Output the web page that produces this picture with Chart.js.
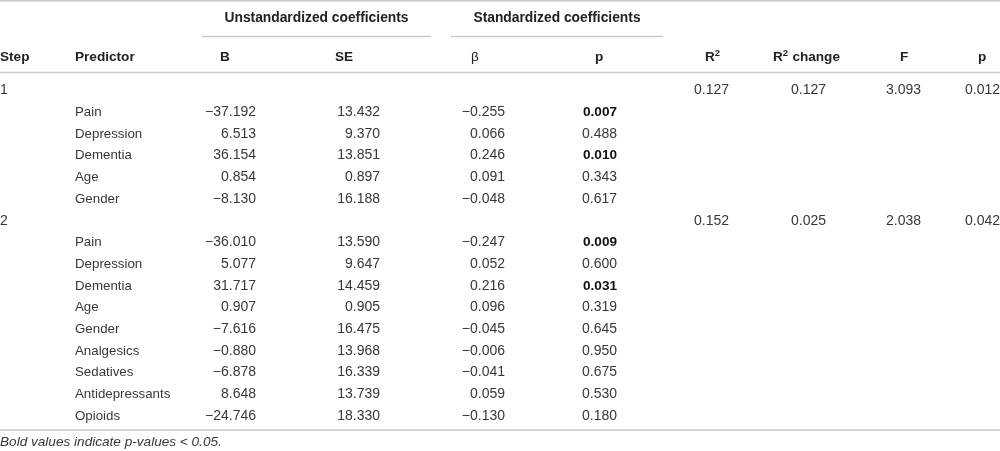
<!DOCTYPE html>
<html>
<head>
<meta charset="utf-8">
<script src="https://cdn.jsdelivr.net/npm/chart.js@4.4.1/dist/chart.umd.min.js"></script>
<style>
  html, body { margin:0; padding:0; background:#fff; }
  #wrap { width:1000px; height:451px; }
</style>
</head>
<body>
<div id="wrap"><canvas id="tbl" width="1000" height="451"></canvas></div>
<script>
/* ===== Data ===== */
const stepLabels  = ['1','','','','','','2','','','','','','','','',''];
const predictors  = ['','Pain','Depression','Dementia','Age','Gender','','Pain','Depression','Dementia','Age','Gender','Analgesics','Sedatives','Antidepressants','Opioids'];
const bValues     = [null,-37.192,6.513,36.154,0.854,-8.130,null,-36.010,5.077,31.717,0.907,-7.616,-0.880,-6.878,8.648,-24.746];
const seValues    = [null,13.432,9.370,13.851,0.897,16.188,null,13.590,9.647,14.459,0.905,16.475,13.968,16.339,13.739,18.330];
const betaValues  = [null,-0.255,0.066,0.246,0.091,-0.048,null,-0.247,0.052,0.216,0.096,-0.045,-0.006,-0.041,0.059,-0.130];
const pValues     = [null,0.007,0.488,0.010,0.343,0.617,null,0.009,0.600,0.031,0.319,0.645,0.950,0.675,0.530,0.180];
const modelRows   = [0, 6];
const r2Values    = [0.127, 0.152];
const r2Change    = [0.127, 0.025];
const fValues     = [3.093, 2.038];
const pModel      = [0.012, 0.042];
const groupHeads  = ['Unstandardized coefficients','Standardized coefficients'];
const colHeads    = ['Step','Predictor','B','SE','\u03b2','p','R|2','R|2| change','F','p'];
const footnote    = 'Bold values indicate p-values < 0.05.';

/* ===== Layout (x in px, y in row units) ===== */
const Y_MIN = -4.153, Y_MAX = 16.66;
const ROW_GROUP = -3.368, ROW_HEAD = -1.523, ROW_FOOT = 16.2;
const headX    = [0, 75, 220, 335, 471, 595, 705, 773, 900, 978];
const valRight = { b:256, se:380, beta:505, p:617, r2:729, r2c:826, f:921, pm:1000 };
const groupSpan = [[202,431],[451,663]];
const TXT = '#383838', HEAD = '#222', RULE = '#cacaca';
const FONT = '"Liberation Sans", Arial, Helvetica, sans-serif';
const BASE_OFF = 4.5;   // px from row centre to text baseline

const fmt = v => (v < 0 ? '\u2212' : '') + Math.abs(v).toFixed(3);

/* ===== Build cells ===== */
const cells = [];
function cell(x, y, text, opt){ cells.push(Object.assign({ x, y, text, align:'left', bold:false, italic:false, size:13, color:TXT }, opt||{})); }

groupHeads.forEach((t,i)=> cell((groupSpan[i][0]+groupSpan[i][1])/2, ROW_GROUP, t, { align:'center', bold:true, size:13.8, color:HEAD }));
colHeads.forEach((t,i)=> cell(headX[i], ROW_HEAD, t, { bold: t !== '\u03b2', size:13.6, color:HEAD, sup:t.includes('|') }));

const num = { align:'right', size:14 };
predictors.forEach((name,r)=>{
  if (stepLabels[r]) cell(0, r, stepLabels[r], { size:14 });
  if (name) cell(75, r, name, { size:13.3 });
  if (bValues[r] !== null)    cell(valRight.b, r, fmt(bValues[r]), num);
  if (seValues[r] !== null)   cell(valRight.se, r, fmt(seValues[r]), num);
  if (betaValues[r] !== null) cell(valRight.beta, r, fmt(betaValues[r]), num);
  if (pValues[r] !== null)    cell(valRight.p, r, fmt(pValues[r]), Object.assign({}, num, { bold: pValues[r] < 0.05, size: pValues[r] < 0.05 ? 13.6 : 14, color: pValues[r] < 0.05 ? '#111' : TXT }));
});
modelRows.forEach((r,i)=>{
  cell(valRight.r2, r, fmt(r2Values[i]), num);
  cell(valRight.r2c, r, fmt(r2Change[i]), num);
  cell(valRight.f, r, fmt(fValues[i]), num);
  cell(valRight.pm, r, fmt(pModel[i]), num);
});
cell(0, ROW_FOOT, footnote, { italic:true, size:13.6 });

/* ===== Rules ===== */
const rules = [
  [0, 1000, -4.118],
  [groupSpan[0][0], groupSpan[0][1], -2.469],
  [groupSpan[1][0], groupSpan[1][1], -2.469],
  [0, 1000, -0.807],
  [0, 1000, 15.69]
];
const ruleSets = rules.map(([x1,x2,y]) => ({
  type:'line', data:[{x:x1,y},{x:x2,y}], borderColor:RULE, borderWidth:1.6,
  pointRadius:0, fill:false
}));

/* ===== Text plugin ===== */
const textPlugin = {
  id:'cellText',
  afterDatasetsDraw(chart){
    const meta = chart.getDatasetMeta(chart.data.datasets.length - 1);
    const ctx = chart.ctx;
    ctx.save();
    ctx.textBaseline = 'alphabetic';
    meta.data.forEach((pt,i)=>{
      const c = cells[i];
      const y = pt.y + BASE_OFF;
      ctx.fillStyle = c.color;
      if (c.sup){
        // R|2|rest : middle piece is superscript
        const parts = c.text.split('|');
        let x = pt.x;
        parts.forEach((p,k)=>{
          const small = k === 1;
          ctx.font = (c.bold ? 'bold ' : '') + (small ? '9.5px ' : c.size + 'px ') + FONT;
          ctx.textAlign = 'left';
          ctx.fillText(p, x, small ? y - 5 : y);
          x += ctx.measureText(p).width + (small ? 0.5 : 0);
        });
      } else {
        ctx.font = (c.italic ? 'italic ' : '') + (c.bold ? 'bold ' : '') + c.size + 'px ' + FONT;
        ctx.textAlign = c.align;
        ctx.fillText(c.text, pt.x, y);
      }
    });
    ctx.restore();
  }
};

/* ===== Chart ===== */
new Chart(document.getElementById('tbl').getContext('2d'), {
  type:'scatter',
  data:{ datasets:[ ...ruleSets, { type:'scatter', data: cells.map(c=>({x:c.x, y:c.y})), pointRadius:0 } ] },
  options:{
    responsive:false, animation:false, devicePixelRatio:1,
    layout:{ padding:0 },
    plugins:{ legend:{ display:false }, tooltip:{ enabled:false } },
    scales:{
      x:{ type:'linear', min:0, max:1000, display:false },
      y:{ type:'linear', min:Y_MIN, max:Y_MAX, reverse:true, display:false }
    }
  },
  plugins:[textPlugin]
});
</script>
</body>
</html>
